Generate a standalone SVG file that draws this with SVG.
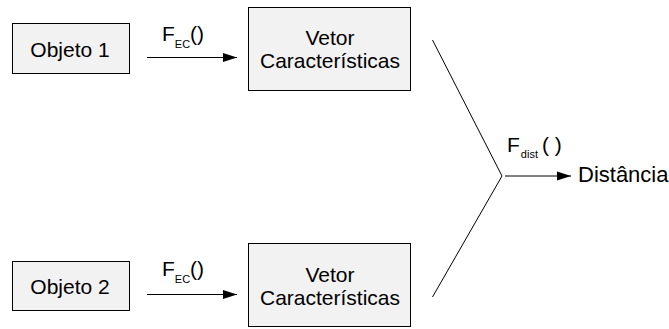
<svg xmlns="http://www.w3.org/2000/svg" width="669" height="329" viewBox="0 0 669 329">
<defs>
<style>
.box{fill:#f2f2f2;stroke:#000;stroke-width:1}
.t{font-family:"Liberation Sans",Arial,sans-serif;font-size:21px;fill:#000}
.sub{font-family:"Liberation Sans",Arial,sans-serif;font-size:11px;fill:#000}
.ln{stroke:#000;stroke-width:1;fill:none}
</style>
<marker id="ah" markerUnits="userSpaceOnUse" markerWidth="15" markerHeight="10" refX="14" refY="5" orient="auto">
<path d="M0,0.5 L14,5 L0,9.5 Z" fill="#000"/>
</marker>
</defs>
<rect width="669" height="329" fill="#fff"/>
<g id="objeto1">
<rect class="box" x="12.5" y="23.5" width="117" height="50"/>
<text class="t" x="70" y="57" text-anchor="middle">Objeto 1</text>
</g>
<g id="objeto2">
<rect class="box" x="12.5" y="261.5" width="117" height="49"/>
<text class="t" x="70" y="294" text-anchor="middle">Objeto 2</text>
</g>
<g id="vetor1">
<rect class="box" x="248.5" y="7.5" width="162" height="83"/>
<text class="t" x="330" y="45" text-anchor="middle">Vetor</text>
<text class="t" x="330" y="68" text-anchor="middle">Características</text>
</g>
<g id="vetor2">
<rect class="box" x="248.5" y="243.5" width="162" height="83"/>
<text class="t" x="330" y="282" text-anchor="middle">Vetor</text>
<text class="t" x="330" y="305" text-anchor="middle">Características</text>
</g>
<g id="distancia">
<text class="t" x="578" y="182" style="font-size:22px">Distância</text>
</g>
<g id="connectors">
<line class="ln" x1="147" y1="57.5" x2="237" y2="57.5" marker-end="url(#ah)"/>
<line class="ln" x1="147" y1="294.5" x2="237" y2="294.5" marker-end="url(#ah)"/>
<polyline class="ln" points="432.5,40 502,176 432.5,297"/>
<line class="ln" x1="505" y1="176" x2="571" y2="176" marker-end="url(#ah)"/>
</g>
<g id="labels">
<text class="t" x="162" y="41">F<tspan class="sub" dy="7">EC</tspan><tspan dy="-7">()</tspan></text>
<text class="t" x="162" y="276">F<tspan class="sub" dy="7">EC</tspan><tspan dy="-7">()</tspan></text>
<text class="t" x="507" y="152">F<tspan class="sub" dx="1" dy="6">dist</tspan><tspan dx="4" dy="-6">( )</tspan></text>
</g>
</svg>
